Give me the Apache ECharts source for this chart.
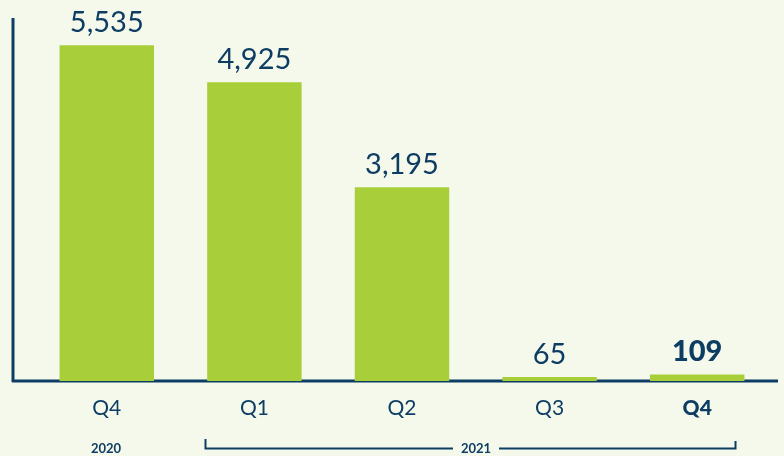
<!DOCTYPE html>
<html>
<head>
<meta charset="utf-8">
<script src="https://cdn.jsdelivr.net/npm/echarts@6/dist/echarts.min.js"></script>
<style>
  html, body { margin: 0; padding: 0; background: #f5f9ec; }
  #chart { width: 784px; height: 456px; }
</style>
</head>
<body>
<div id="chart"></div>
<script>
  // quarters and values
  var quarters = ['Q4', 'Q1', 'Q2', 'Q3', 'Q4'];
  var values = [5535, 4925, 3195, 65, 109];
  var years = ['2020', '2021'];

  var navy = '#0e3d63';
  var green = '#a8cf3a';
  var font = 'Lato';

  var myChart = echarts.init(document.getElementById('chart'));

  var xData = quarters.map(function (q, i) {
    // the last quarter is bold
    if (i === quarters.length - 1) {
      return { value: q, textStyle: { fontWeight: 900 } };
    }
    return q;
  });

  var barData = values.map(function (v, i) {
    var item = { value: v };
    if (i === values.length - 1) {
      item.label = { fontWeight: 900 };
    }
    return item;
  });

  myChart.setOption({
    backgroundColor: '#f5f9ec',
    animation: false,
    grid: {
      left: 33,
      right: 13,
      top: 17,
      bottom: 75
    },
    xAxis: {
      type: 'category',
      data: xData,
      axisLine: { show: false },
      axisTick: { show: false },
      axisLabel: {
        color: navy,
        fontFamily: font,
        fontSize: 21,
        margin: 17
      }
    },
    yAxis: {
      type: 'value',
      min: 0,
      max: 6000,
      show: false
    },
    series: [
      {
        type: 'bar',
        data: barData,
        barWidth: '64%',
        itemStyle: { color: green },
        label: {
          show: true,
          position: 'top',
          distance: 8,
          color: navy,
          fontFamily: font,
          fontSize: 29,
          formatter: function (p) {
            return p.value.toLocaleString('en-US');
          }
        }
      }
    ],
    graphic: [
      // axis lines
      { type: 'line', shape: { x1: 13, y1: 18, x2: 13, y2: 382 }, style: { stroke: navy, lineWidth: 3 } },
      { type: 'line', shape: { x1: 12, y1: 381, x2: 778, y2: 381 }, style: { stroke: navy, lineWidth: 3 } },
      // year labels
      {
        type: 'text', x: 106, y: 449,
        style: { text: years[0], fill: navy, font: 'bold 13px Lato', align: 'center', verticalAlign: 'middle' }
      },
      {
        type: 'polyline',
        shape: { points: [[205.5, 439], [205.5, 448.5], [453, 448.5]] },
        style: { stroke: navy, lineWidth: 2, fill: null }
      },
      {
        type: 'polyline',
        shape: { points: [[499, 448.5], [735.5, 448.5], [735.5, 441]] },
        style: { stroke: navy, lineWidth: 2, fill: null }
      },
      {
        type: 'text', x: 476, y: 449,
        style: { text: years[1], fill: navy, font: 'bold 13px Lato', align: 'center', verticalAlign: 'middle' }
      }
    ]
  });
</script>
</body>
</html>
